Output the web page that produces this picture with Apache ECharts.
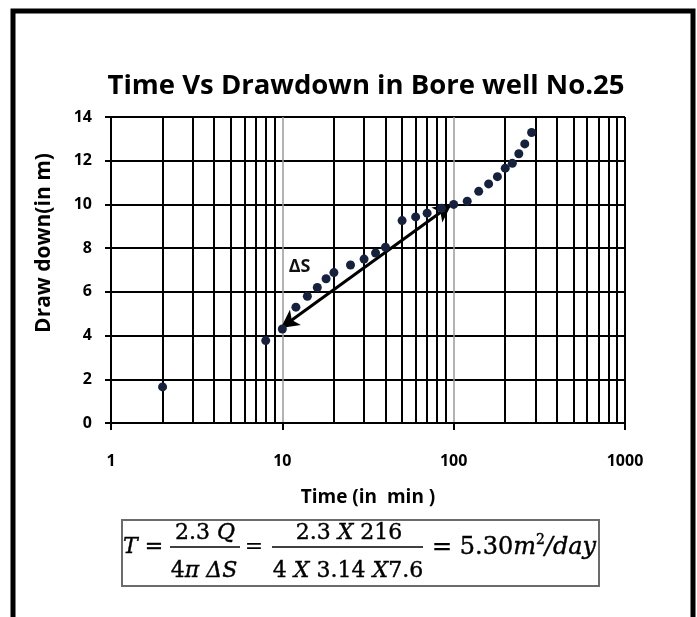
<!DOCTYPE html>
<html>
<head>
<meta charset="utf-8">
<script src="https://cdn.jsdelivr.net/npm/echarts@6/dist/echarts.min.js"></script>
<style>html,body{margin:0;padding:0;background:#fff;}#c{width:697px;height:617px;}</style>
</head>
<body>
<div id="c"></div>
<script>
// ---- data ----
const timeMin = [2, 8, 10, 12, 14, 16, 18, 20, 25, 30, 35, 40, 50, 60, 70, 85, 100, 120, 140, 160, 180, 200, 220, 240, 260, 285];
const drawdown = [1.65, 3.77, 4.3, 5.3, 5.8, 6.2, 6.6, 6.88, 7.23, 7.5, 7.78, 8.04, 9.26, 9.43, 9.6, 9.82, 10.0, 10.15, 10.6, 10.94, 11.27, 11.66, 11.88, 12.32, 12.77, 13.29];
const minorGridX = [2, 3, 4, 5, 6, 7, 8, 9, 20, 30, 40, 50, 60, 70, 80, 90, 200, 300, 400, 500, 600, 700, 800, 900, 1000];
const arrowStart = [9.8, 4.35];
const arrowEnd = [97, 10.0];
const deltaSLabel = [12.6, 7.15];
const yTicks = [0, 2, 4, 6, 8, 10, 12, 14];

const chart = echarts.init(document.getElementById('c'), null, {renderer: 'canvas'});
const sans = 'Open Sans';
const serif = 'DejaVu Serif';
const it = {fontStyle: 'italic', fontFamily: serif, fontSize: 22};

const formulaGraphics = [
  {type: 'rect', shape: {x: 13, y: 11, width: 680, height: 640},
    style: {fill: 'none', stroke: '#000', lineWidth: 5}, z: 100},
  {type: 'rect', shape: {x: 122, y: 520, width: 477, height: 66},
    style: {fill: '#fff', stroke: '#6b6b6b', lineWidth: 2}, z: 100},
  {type: 'text', x: 123, y: 547, z: 101,
    style: {text: '{i|T} =', rich: {i: it}, stroke: '#000', lineWidth: 0.4,
      font: '22px "DejaVu Serif"', fill: '#000', verticalAlign: 'middle', textAlign: 'left'}},
  {type: 'text', x: 205, y: 533, z: 101,
    style: {text: '2.3 {i|Q}', rich: {i: it}, stroke: '#000', lineWidth: 0.4,
      font: '22px "DejaVu Serif"', fill: '#000', verticalAlign: 'middle', textAlign: 'center'}},
  {type: 'line', shape: {x1: 170, y1: 547, x2: 240, y2: 547}, style: {stroke: '#000', lineWidth: 1.5}, z: 101},
  {type: 'text', x: 204, y: 571, z: 101,
    style: {text: '4{i|π ΔS}', rich: {i: it}, stroke: '#000', lineWidth: 0.4,
      font: '22px "DejaVu Serif"', fill: '#000', verticalAlign: 'middle', textAlign: 'center'}},
  {type: 'text', x: 254, y: 547, z: 101,
    style: {text: '=', font: '22px "DejaVu Serif"', fill: '#000', verticalAlign: 'middle', textAlign: 'center'}},
  {type: 'text', x: 349, y: 533, z: 101,
    style: {text: '2.3 {i|X} 216', rich: {i: it}, stroke: '#000', lineWidth: 0.4,
      font: '22px "DejaVu Serif"', fill: '#000', verticalAlign: 'middle', textAlign: 'center'}},
  {type: 'line', shape: {x1: 272, y1: 547, x2: 423, y2: 547}, style: {stroke: '#000', lineWidth: 1.5}, z: 101},
  {type: 'text', x: 348, y: 571, z: 101,
    style: {text: '4 {i|X} 3.14 {i|X}7.6', rich: {i: it}, stroke: '#000', lineWidth: 0.4,
      font: '22px "DejaVu Serif"', fill: '#000', verticalAlign: 'middle', textAlign: 'center'}},
  {type: 'text', x: 432, y: 548, z: 101,
    style: {text: '= 5.30{i|m}{s|2}{i|/day}',
      rich: {i: {fontStyle: 'italic', fontFamily: serif, fontSize: 24},
             s: {fontFamily: serif, fontSize: 14, verticalAlign: 'top', padding: [0, 0, 16, 0]}},
      stroke: '#000', lineWidth: 0.4,
      font: '24px "DejaVu Serif"', fill: '#000', verticalAlign: 'middle', textAlign: 'left'}}
];

chart.setOption({
  animation: false,
  backgroundColor: '#fff',
  title: {
    text: 'Time Vs Drawdown in Bore well No.25',
    left: 361, top: 67, textAlign: 'center',
    textStyle: {fontFamily: sans, fontWeight: 'bold', fontSize: 27.5, color: '#000'}
  },
  grid: {left: 111, right: 72, top: 117, bottom: 194},
  xAxis: {
    type: 'log', logBase: 10, min: 1, max: 1000,
    name: 'Time (in  min )', nameLocation: 'middle', nameGap: 65,
    nameTextStyle: {fontFamily: sans, fontWeight: 'bold', fontSize: 19, color: '#000'},
    axisLine: {show: true, lineStyle: {color: '#000', width: 2}},
    axisTick: {show: true, inside: false, length: 7, lineStyle: {color: '#000', width: 2}},
    axisLabel: {fontFamily: sans, fontWeight: 'bold', fontSize: 16, color: '#000', margin: 30,
      formatter: v => String(Math.round(v))},
    splitLine: {show: true, lineStyle: {color: '#9a9a9a', width: 1.5}},
    minorTick: {show: false}, minorSplitLine: {show: false}
  },
  yAxis: {
    type: 'value', min: 0, max: 14, interval: 2,
    name: 'Draw down(in m)', nameLocation: 'middle', nameGap: 56, nameRotate: 90,
    nameTextStyle: {fontFamily: sans, fontWeight: 'bold', fontSize: 21, color: '#000', padding: [0, 0, 0, 54]},
    axisLine: {show: true, lineStyle: {color: '#000', width: 2}},
    axisTick: {show: true, inside: false, length: 6, lineStyle: {color: '#000', width: 2}},
    axisLabel: {fontFamily: sans, fontWeight: 'bold', fontSize: 16, color: '#000', margin: 19},
    splitLine: {show: true, lineStyle: {color: '#000', width: 2}}
  },
  series: [
    {
      type: 'scatter',
      data: timeMin.map((t, i) => [t, drawdown[i]]),
      symbol: 'circle', symbolSize: 9,
      itemStyle: {color: '#16223d', opacity: 1},
      z: 5,
      markLine: {
        silent: true, symbol: 'none', animation: false,
        label: {show: false},
        lineStyle: {color: '#000', width: 2, type: 'solid'},
        data: minorGridX.map(v => ({xAxis: v}))
      }
    },
    {
      type: 'line',
      data: [],
      markLine: {
        silent: true, animation: false,
        symbol: ['arrow', 'arrow'], symbolSize: [14, 18],
        label: {show: false},
        lineStyle: {color: '#000', width: 3, type: 'solid'},
        data: [[{coord: arrowStart}, {coord: arrowEnd}]]
      },
      z: 6
    }
  ],
  graphic: formulaGraphics
});

// ΔS annotation placed through the chart's own scales
const dsPos = chart.convertToPixel({gridIndex: 0}, deltaSLabel);
chart.setOption({
  graphic: formulaGraphics.concat([{
    type: 'text', x: dsPos[0], y: dsPos[1], z: 102,
    style: {text: 'ΔS', font: 'bold 18px "Open Sans"', fill: '#111',
      textAlign: 'center', verticalAlign: 'middle'}
  }])
});
</script>
</body>
</html>
